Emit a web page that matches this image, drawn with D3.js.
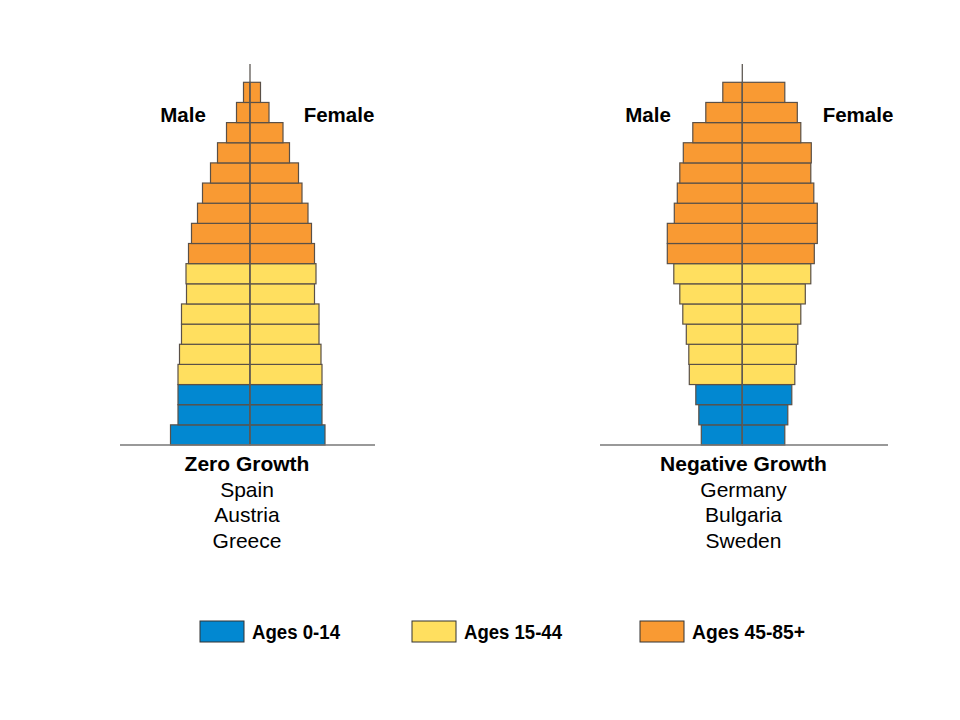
<!DOCTYPE html>
<html>
<head>
<meta charset="utf-8">
<script src="https://cdn.jsdelivr.net/npm/d3@7"></script>
<style>
  body { margin: 0; background: #fff; }
  svg { display: block; font-family: "Liberation Sans", Arial, sans-serif; }
</style>
</head>
<body>
<div id="chart"></div>
<script>
// age groups, bottom to top
var ages = ["0-4", "5-9", "10-14", "15-19", "20-24", "25-29", "30-34", "35-39", "40-44",
            "45-49", "50-54", "55-59", "60-64", "65-69", "70-74", "75-79", "80-84", "85+"];

// zero growth pyramid (relative size units)
var zeroMale   = [79.5, 72, 72, 72, 70.5, 68.5, 68.5, 63.5, 64, 61.5, 58.5, 52.5, 47.5, 39.5, 32.5, 23.5, 13.5, 6.5];
var zeroFemale = [75, 72, 72, 72, 71, 69, 69, 64.5, 66, 64.5, 61.5, 58, 52, 48.5, 39.5, 33, 19, 10.5];

// negative growth pyramid
var negMale   = [41, 43.5, 46.5, 53, 53.5, 56, 59.5, 62.5, 68.5, 75, 75, 68, 65, 62.5, 59, 49.5, 36.5, 19.5];
var negFemale = [42.5, 45.5, 49.5, 52.5, 54, 55.5, 58.5, 63, 68.5, 72, 75, 75, 71.5, 68.5, 69, 58.5, 55, 42.5];

var groups = ["Ages 0-14", "Ages 15-44", "Ages 45-85+"];
var groupColors = ["#0288d1", "#ffdf5f", "#f99a33"];

var zeroLabels = ["Spain", "Austria", "Greece"];
var negLabels = ["Germany", "Bulgaria", "Sweden"];

var w = 960, h = 720;

var svg = d3.select("#chart")
  .append("svg")
  .attr("width", w)
  .attr("height", h);

function groupOf(i) {
  if (i < 3) return 0;
  if (i < 9) return 1;
  return 2;
}

var x = d3.scaleLinear().domain([0, 80]).range([0, 80]);
var y = d3.scaleBand().domain(ages).range([445, 82.3]);

function drawPyramid(cx, x0, x1, male, female, title, countries, maleX, femaleX, textX) {
  var g = svg.append("g");

  // male bars (left)
  g.selectAll("rect.male")
    .data(male)
    .enter()
    .append("rect")
    .attr("class", "male")
    .attr("x", function(d) { return cx - x(d); })
    .attr("y", function(d, i) { return y(ages[i]); })
    .attr("width", function(d) { return x(d); })
    .attr("height", y.bandwidth())
    .attr("fill", function(d, i) { return groupColors[groupOf(i)]; })
    .attr("stroke", "#5a5047")
    .attr("stroke-width", 1.2);

  // female bars (right)
  g.selectAll("rect.female")
    .data(female)
    .enter()
    .append("rect")
    .attr("class", "female")
    .attr("x", cx)
    .attr("y", function(d, i) { return y(ages[i]); })
    .attr("width", function(d) { return x(d); })
    .attr("height", y.bandwidth())
    .attr("fill", function(d, i) { return groupColors[groupOf(i)]; })
    .attr("stroke", "#5a5047")
    .attr("stroke-width", 1.2);

  // center line and baseline
  g.append("line")
    .attr("x1", cx).attr("x2", cx)
    .attr("y1", 64).attr("y2", 445)
    .attr("stroke", "#5f5a55")
    .attr("stroke-width", 1.3);

  g.append("line")
    .attr("x1", x0).attr("x2", x1)
    .attr("y1", 445).attr("y2", 445)
    .attr("stroke", "#777")
    .attr("stroke-width", 1.5);

  g.append("text")
    .attr("x", maleX).attr("y", 122)
    .attr("text-anchor", "middle")
    .attr("font-size", "20.5px")
    .attr("font-weight", "bold")
    .text("Male");

  g.append("text")
    .attr("x", femaleX).attr("y", 122)
    .attr("text-anchor", "middle")
    .attr("font-size", "20.5px")
    .attr("font-weight", "bold")
    .text("Female");

  g.append("text")
    .attr("x", textX).attr("y", 471)
    .attr("text-anchor", "middle")
    .attr("font-size", "21px")
    .attr("font-weight", "bold")
    .text(title);

  g.selectAll("text.country")
    .data(countries)
    .enter()
    .append("text")
    .attr("class", "country")
    .attr("x", textX)
    .attr("y", function(d, i) { return 496.5 + i * 25.5; })
    .attr("text-anchor", "middle")
    .attr("font-size", "21px")
    .text(function(d) { return d; });
}

drawPyramid(250, 120, 375, zeroMale, zeroFemale, "Zero Growth", zeroLabels, 183, 339, 247);
drawPyramid(742.3, 600, 888, negMale, negFemale, "Negative Growth", negLabels, 648, 858, 743.5);

// legend
var legendX = [200, 412, 640];
var legendW = [88, 98, 113];

var legend = svg.selectAll("g.legend")
  .data(groups)
  .enter()
  .append("g")
  .attr("class", "legend")
  .attr("transform", function(d, i) { return "translate(" + legendX[i] + ",621)"; });

legend.append("rect")
  .attr("width", 44)
  .attr("height", 21)
  .attr("fill", function(d, i) { return groupColors[i]; })
  .attr("stroke", "#333")
  .attr("stroke-width", 1);

legend.append("text")
  .attr("x", 52)
  .attr("y", 18)
  .attr("font-size", "20px")
  .attr("font-weight", "bold")
  .attr("textLength", function(d, i) { return legendW[i]; })
  .attr("lengthAdjust", "spacingAndGlyphs")
  .text(function(d) { return d; });
</script>
</body>
</html>
